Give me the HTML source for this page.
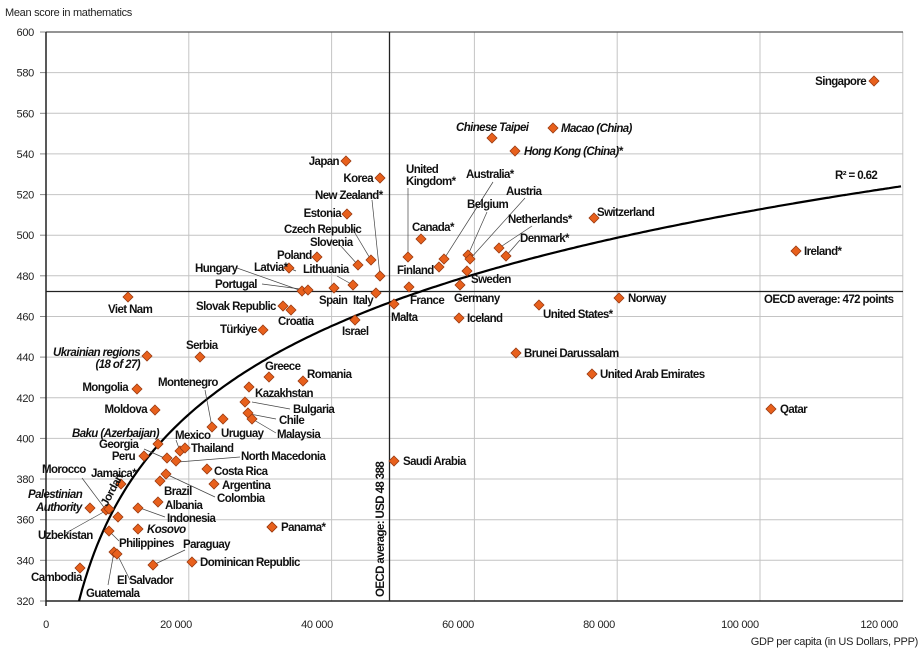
<!DOCTYPE html>
<html><head><meta charset="utf-8"><style>
html,body{margin:0;padding:0;background:#fff}
svg{display:block;font-family:"Liberation Sans Narrow","Liberation Sans",sans-serif}
.l{font-size:11.5px;font-weight:bold;fill:#111;letter-spacing:-0.6px}
.i{font-style:italic}
.t{font-size:11px;fill:#222;letter-spacing:-0.3px}
</style></head><body>
<svg width="924" height="654" viewBox="0 0 924 654" xmlns="http://www.w3.org/2000/svg">
<g stroke="#c4c4c4" stroke-width="1">
<line x1="46" x2="903" y1="72.6" y2="72.6"/><line x1="46" x2="903" y1="113.3" y2="113.3"/><line x1="46" x2="903" y1="153.9" y2="153.9"/><line x1="46" x2="903" y1="194.6" y2="194.6"/><line x1="46" x2="903" y1="235.2" y2="235.2"/><line x1="46" x2="903" y1="275.8" y2="275.8"/><line x1="46" x2="903" y1="316.5" y2="316.5"/><line x1="46" x2="903" y1="357.1" y2="357.1"/><line x1="46" x2="903" y1="397.8" y2="397.8"/><line x1="46" x2="903" y1="438.4" y2="438.4"/><line x1="46" x2="903" y1="479" y2="479"/><line x1="46" x2="903" y1="519.7" y2="519.7"/><line x1="46" x2="903" y1="560.3" y2="560.3"/>
<line x1="188.8" x2="188.8" y1="32" y2="601"/><line x1="331.6" x2="331.6" y1="32" y2="601"/><line x1="474.4" x2="474.4" y1="32" y2="601"/><line x1="617.2" x2="617.2" y1="32" y2="601"/><line x1="760" x2="760" y1="32" y2="601"/><line x1="902.8" x2="902.8" y1="32" y2="601"/>
</g>
<g stroke="#888" stroke-width="1"><line x1="40" x2="46" y1="32" y2="32"/><line x1="40" x2="46" y1="72.6" y2="72.6"/><line x1="40" x2="46" y1="113.3" y2="113.3"/><line x1="40" x2="46" y1="153.9" y2="153.9"/><line x1="40" x2="46" y1="194.6" y2="194.6"/><line x1="40" x2="46" y1="235.2" y2="235.2"/><line x1="40" x2="46" y1="275.8" y2="275.8"/><line x1="40" x2="46" y1="316.5" y2="316.5"/><line x1="40" x2="46" y1="357.1" y2="357.1"/><line x1="40" x2="46" y1="397.8" y2="397.8"/><line x1="40" x2="46" y1="438.4" y2="438.4"/><line x1="40" x2="46" y1="479" y2="479"/><line x1="40" x2="46" y1="519.7" y2="519.7"/><line x1="40" x2="46" y1="560.3" y2="560.3"/><line x1="40" x2="46" y1="601" y2="601"/></g>
<line x1="46" x2="903" y1="32" y2="32" stroke="#555" stroke-width="1.3"/>
<line x1="46" x2="46" y1="32" y2="606" stroke="#222" stroke-width="1.5"/>
<line x1="46" x2="903" y1="601" y2="601" stroke="#222" stroke-width="1.5"/>
<line x1="46" x2="903" y1="291.5" y2="291.5" stroke="#222" stroke-width="1.3"/>
<line x1="389.5" x2="389.5" y1="32" y2="601" stroke="#222" stroke-width="1.3"/>
<path id="curve" fill="none" stroke="#000" stroke-width="2.2" d=""/>
<g class="t" text-anchor="end">
<text x="34" y="36">600</text><text x="34" y="76.6">580</text><text x="34" y="117.3">560</text><text x="34" y="157.9">540</text><text x="34" y="198.6">520</text><text x="34" y="239.2">500</text><text x="34" y="279.8">480</text><text x="34" y="320.5">460</text><text x="34" y="361.1">440</text><text x="34" y="401.8">420</text><text x="34" y="442.4">400</text><text x="34" y="483">380</text><text x="34" y="523.7">360</text><text x="34" y="564.3">340</text><text x="34" y="605">320</text>
</g>
<g class="t" text-anchor="middle">
<text x="46" y="628">0</text><text x="176" y="628">20 000</text><text x="317" y="628">40 000</text><text x="458" y="628">60 000</text><text x="599" y="628">80 000</text><text x="740" y="628">100 000</text><text x="898" y="628" text-anchor="end">120 000</text>
</g>
<text class="t" x="918" y="645" text-anchor="end">GDP per capita (in US Dollars, PPP)</text>
<text class="t" x="5" y="16">Mean score in mathematics</text>
<g stroke="#444" stroke-width="0.7" fill="none">
<path d="M237 268 L302 291"/><path d="M262 284 L308 290"/><path d="M340 245 L358 265"/><path d="M352 228 L371 260"/><path d="M372 200 L380 276"/><path d="M337 276 L353 285"/><path d="M296 271 L289 268"/><path d="M408 188 L408 257"/><path d="M493 182 L444 259"/><path d="M525 198 L470 259"/><path d="M487 212 L468 255"/><path d="M532 226 L499 248"/><path d="M520 240 L506 256"/><path d="M205 390 L212 427"/><path d="M252 402 L290 409"/><path d="M250 414 L276 419"/><path d="M254 420 L276 433"/><path d="M169 460 L144 449"/><path d="M178 462 L240 457"/><path d="M168 475 L215 497"/><path d="M82 478 L106 510"/><path d="M66 533 L109 509"/><path d="M140 508 L165 517"/><path d="M109 531 L119 541"/><path d="M114 552 L108 585"/><path d="M117 554 L130 580"/><path d="M153 565 L185 550"/><path d="M180 451 L176 440"/>
</g>
<g id="pts" fill="#e8601c" stroke="#9a3a10" stroke-width="0.8"></g>
<g class="l">
<text x="866" y="85" text-anchor="end">Singapore</text>
<text class="i" x="561" y="132">Macao (China)</text>
<text class="i" x="456" y="131">Chinese Taipei</text>
<text class="i" x="524" y="155">Hong Kong (China)*</text>
<text x="339" y="165" text-anchor="end">Japan</text>
<text x="373" y="182" text-anchor="end">Korea</text>
<text x="315" y="199">New Zealand*</text>
<text x="341" y="217" text-anchor="end">Estonia</text>
<text x="284" y="233">Czech Republic</text>
<text x="310" y="246">Slovenia</text>
<text x="277" y="259">Poland</text>
<text x="254" y="271">Latvia*</text>
<text x="303" y="273">Lithuania</text>
<text x="195" y="272">Hungary</text>
<text x="215" y="288">Portugal</text>
<text x="319" y="304">Spain</text>
<text x="353" y="304">Italy</text>
<text x="196" y="310">Slovak Republic</text>
<text x="278" y="325">Croatia</text>
<text x="220" y="333">Türkiye</text>
<text x="342" y="335">Israel</text>
<text x="391" y="321">Malta</text>
<text x="410" y="304">France</text>
<text x="397" y="274">Finland</text>
<text x="454" y="302">Germany</text>
<text x="471" y="283">Sweden</text>
<text x="467" y="322">Iceland</text>
<text x="406" y="173">United</text><text x="406" y="185">Kingdom*</text>
<text x="466" y="178">Australia*</text>
<text x="506" y="195">Austria</text>
<text x="467" y="208">Belgium</text>
<text x="412" y="231">Canada*</text>
<text x="508" y="223">Netherlands*</text>
<text x="520" y="242">Denmark*</text>
<text x="597" y="216">Switzerland</text>
<text x="835" y="179">R² = 0.62</text>
<text x="628" y="302">Norway</text>
<text x="764" y="303">OECD average: 472 points</text>
<text x="543" y="318">United States*</text>
<text x="524" y="357">Brunei Darussalam</text>
<text x="600" y="378">United Arab Emirates</text>
<text x="780" y="413">Qatar</text>
<text x="804" y="255">Ireland*</text>
<text x="403" y="465">Saudi Arabia</text>
<text x="281" y="531">Panama*</text>
<text x="108" y="313">Viet Nam</text>
<text class="i" x="140" y="356" text-anchor="end">Ukrainian regions</text>
<text class="i" x="140" y="368" text-anchor="end">(18 of 27)</text>
<text x="186" y="349">Serbia</text>
<text x="265" y="370">Greece</text>
<text x="307" y="378">Romania</text>
<text x="128" y="391" text-anchor="end">Mongolia</text>
<text x="255" y="397">Kazakhstan</text>
<text x="158" y="386">Montenegro</text>
<text x="147" y="413" text-anchor="end">Moldova</text>
<text x="293" y="413">Bulgaria</text>
<text x="279" y="424">Chile</text>
<text x="277" y="438">Malaysia</text>
<text x="221" y="437">Uruguay</text>
<text class="i" x="72" y="437">Baku (Azerbaijan)</text>
<text x="175" y="439">Mexico</text>
<text x="99" y="448">Georgia</text>
<text x="191" y="452">Thailand</text>
<text x="135" y="460" text-anchor="end">Peru</text>
<text x="241" y="460">North Macedonia</text>
<text x="42" y="473">Morocco</text>
<text x="214" y="475">Costa Rica</text>
<text x="91" y="477">Jamaica*</text>
<text x="222" y="489">Argentina</text>
<text x="164" y="495">Brazil</text>
<text x="217" y="502">Colombia</text>
<text class="i" x="28" y="498">Palestinian</text>
<text class="i" x="36" y="511">Authority</text>
<text x="165" y="509">Albania</text>
<text x="107" y="507" transform="rotate(-62 107 507)">Jordan</text>
<text x="167" y="522">Indonesia</text>
<text x="38" y="539">Uzbekistan</text>
<text class="i" x="147" y="533">Kosovo</text>
<text x="119" y="547">Philippines</text>
<text x="183" y="548">Paraguay</text>
<text x="200" y="566">Dominican Republic</text>
<text x="31" y="581">Cambodia</text>
<text x="117" y="584">El Salvador</text>
<text x="86" y="597">Guatemala</text>
<text x="384" y="597" transform="rotate(-90 384 597)">OECD average: USD 48 388</text>
</g>
</svg>
<script>
var P=[[874,81],[553,128],[492,138],[515,151],[346,161],[380,178],[347,214],[371,260],[358,265],[380,276],[317,257],[289,268],[353,285],[334,288],[302,291],[308,290],[376,293],[283,306],[291,310],[263,330],[355,320],[408,257],[421,239],[439,267],[444,259],[468,255],[470,259],[499,248],[506,256],[467,271],[409,287],[460,285],[394,304],[459,318],[594,218],[619,298],[539,305],[796,251],[771,409],[592,374],[516,353],[394,461],[272,527],[128,297],[147,356],[200,357],[269,377],[303,381],[137,389],[249,387],[155,410],[245,402],[248,413],[252,419],[223,419],[212,427],[158,444],[180,451],[185,448],[144,456],[167,458],[176,461],[207,469],[121,484],[160,481],[166,474],[214,484],[106,510],[109,509],[90,508],[118,517],[138,508],[158,502],[138,529],[109,531],[272,527],[114,552],[117,554],[153,565],[192,562],[80,568]];
var g=document.getElementById('pts'),s='';
P.forEach(function(p){s+='<path d="M'+p[0]+' '+(p[1]-5)+'L'+(p[0]+5)+' '+p[1]+'L'+p[0]+' '+(p[1]+5)+'L'+(p[0]-5)+' '+p[1]+'Z"/>';});
g.innerHTML=s;
var d='';
for(var x=79;x<=903;x+=3){var gd=(x-46)/0.00714;var sc=-209.1+62.7*Math.log(gd);var y=601-(sc-320)*2.032;d+=(d?'L':'M')+x+' '+y.toFixed(1);}
document.getElementById('curve').setAttribute('d',d);
</script>
</body></html>
